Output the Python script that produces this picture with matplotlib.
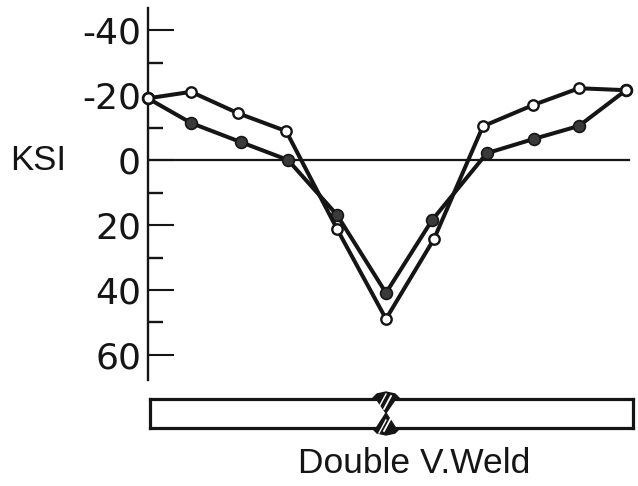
import matplotlib
matplotlib.use('Agg')
import matplotlib.pyplot as plt
from matplotlib.patches import Polygon

plt.rcParams['font.family'] = ['Liberation Sans', 'DejaVu Sans']

INK = '#151515'

# distance from the weld centre (plate units) and stress in KSI
x_open = [-4.96, -4.06, -3.08, -2.08, -1.02, 0, 1.0, 2.02, 3.06, 4.02, 5.0]
ksi_open = [-19, -21, -14.4, -8.9, 21.2, 48.9, 24.3, -10.4, -16.9, -22.1, -21.5]
x_filled = [-4.96, -4.06, -3.02, -2.04, -1.02, 0, 0.96, 2.1, 3.08, 4.02, 5.0]
ksi_filled = [-19, -11.4, -5.5, 0, 16.9, 40.9, 18.5, -2.1, -6.5, -10.5, -21.5]

major_ticks = [-40, -20, 0, 20, 40, 60]
major_labels = ['-40', '-20', '0', '20', '40', '60']
minor_ticks = [-30, -10, 10, 30, 50]

W, H = 638, 486
fig = plt.figure(figsize=(W / 100, H / 100), dpi=100)

ax = fig.add_axes([148 / W, 1 - 380 / H, (634 - 148) / W, (380 - 8) / H])
ax.set_xlim(-4.958, 5.167)
ax.set_ylim(67.7, -46.8)
for s in ['top', 'right', 'bottom']:
    ax.spines[s].set_visible(False)
ax.spines['left'].set_linewidth(1.7)
ax.spines['left'].set_color(INK)
ax.set_xticks([])
ax.set_yticks(major_ticks)
ax.set_yticklabels(major_labels, fontsize=26, color=INK, family='DejaVu Sans')
ax.set_yticks(minor_ticks, minor=True)
ax.tick_params(axis='y', which='major', direction='in', length=19, width=1.5, pad=5, color=INK)
ax.tick_params(axis='y', which='minor', direction='in', length=11, width=1.7, color=INK)
# the -20 tick does not show in the original
ax.yaxis.get_major_ticks()[1].tick1line.set_visible(False)
ax.patch.set_alpha(0)

ax.plot([-4.958, 5.06], [0, 0], color=INK, lw=1.6, zorder=2)
ax.plot(x_filled, ksi_filled, '-o', color=INK, lw=2.9, ms=8.5, mfc='#3a3a3a', mec=INK, mew=1.2,
        clip_on=False, zorder=3)
ax.plot(x_open, ksi_open, '-o', color=INK, lw=2.9, ms=7.5, mfc='white', mec=INK, mew=1.7,
        clip_on=False, zorder=4)

fig.text(38 / W, 1 - 160 / H, 'KSI', fontsize=25, color=INK, ha='center', va='center')

# plate with the weld section, in pixel coordinates
plate = fig.add_axes([150 / W, 1 - 428 / H, (633 - 150) / W, (428 - 399) / H])
plate.set_xlim(150, 633)
plate.set_ylim(428, 399)
plate.set_xticks([])
plate.set_yticks([])
for s in plate.spines.values():
    s.set_linewidth(2.3)
    s.set_color(INK)
plate.add_patch(Polygon([(372, 399), (377, 394), (386, 392), (395, 394), (400, 399)], closed=True,
                        fc=INK, ec=INK, lw=1, clip_on=False, zorder=6))
plate.add_patch(Polygon([(372, 428), (377, 433), (386, 435), (395, 433), (400, 428)], closed=True,
                        fc=INK, ec=INK, lw=1, clip_on=False, zorder=6))
# weld section: solid X with a light slash through each half
plate.add_patch(Polygon([(375, 397), (397, 397), (386, 413)], closed=True, fc=INK, ec=INK,
                        lw=1, clip_on=False, zorder=7))
plate.add_patch(Polygon([(375, 430), (397, 430), (386, 413)], closed=True, fc=INK, ec=INK,
                        lw=1, clip_on=False, zorder=7))
plate.plot([384, 391], [409, 396], color='white', lw=1.3, zorder=8, clip_on=False)
plate.plot([379, 386], [407, 394], color='white', lw=1.0, zorder=8, clip_on=False)
plate.plot([384, 391], [431, 418], color='white', lw=1.3, zorder=8, clip_on=False)
plate.plot([379, 386], [433, 420], color='white', lw=1.0, zorder=8, clip_on=False)

fig.text(414 / W, 1 - 463 / H, 'Double V.Weld', fontsize=25.5, color=INK, ha='center', va='center')

fig.savefig('out.png', dpi=100)
